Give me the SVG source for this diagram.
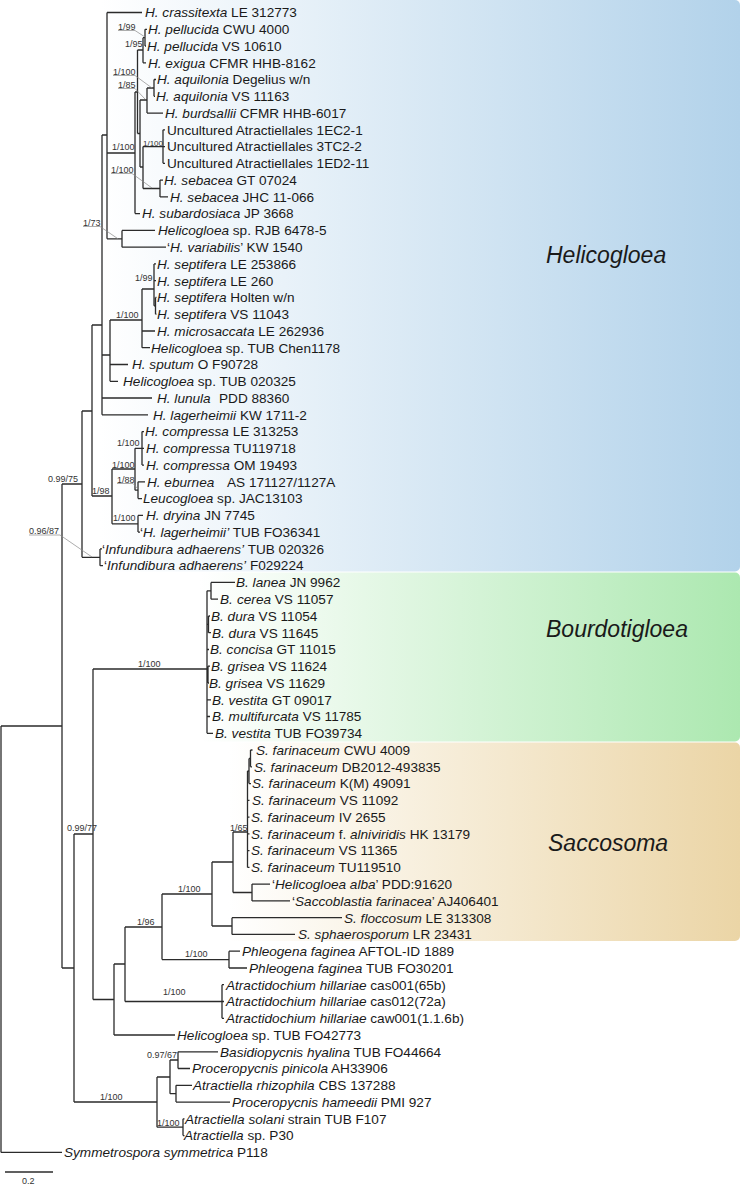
<svg xmlns="http://www.w3.org/2000/svg" width="742" height="1185" viewBox="0 0 742 1185">
<defs>
<linearGradient id="gB" x1="0" y1="0" x2="1" y2="0"><stop offset="0" stop-color="#ffffff"/><stop offset="1" stop-color="#b2d2ea"/></linearGradient>
<linearGradient id="gG" x1="0" y1="0" x2="1" y2="0"><stop offset="0" stop-color="#ffffff"/><stop offset="1" stop-color="#ace8b0"/></linearGradient>
<linearGradient id="gT" x1="0" y1="0" x2="1" y2="0"><stop offset="0" stop-color="#ffffff"/><stop offset="1" stop-color="#ebd5a6"/></linearGradient>
<style>
.br{fill:none;stroke:#2b2b2b;stroke-width:1.3}
.ld{fill:none;stroke:#8a8a8a;stroke-width:0.7}
text{font-family:"Liberation Sans",Arial,sans-serif;fill:#1a1a1a}
.t{font-size:13.6px}
.i{font-style:italic}
.s{font-size:9px;fill:#333}
.ss{font-size:8px;fill:#333}
.c{font-size:23px;font-style:italic}
</style>
</defs>
<g id="backgrounds">
<rect x="100" y="0" width="640" height="571.5" rx="5" fill="url(#gB)"/>
<rect x="200" y="572.5" width="540" height="169" rx="5" fill="url(#gG)"/>
<rect x="228" y="742.5" width="512" height="198.5" rx="5" fill="url(#gT)"/>
</g>
<g id="clade-labels">
<text class="c" x="546" y="263">Helicogloea</text>
<text class="c" x="546" y="637">Bourdotigloea</text>
<text class="c" x="548" y="851">Saccosoma</text>
</g>
<g id="connectors">
<path class="br" d="M1,726V1152.4 M1,726H62 M1,1152.4H62
M62,484V968 M62,484H82 M62,968H74
M82,411V557.3 M82,411H92 M82,557.3H100
M100,548.9V565.7 M100,548.9H102 M100,565.7H103
M92,325V496 M92,325H102 M92,496H112
M102,135V414.8 M102,135H107 M102,355H110 M102,398H152 M102,414.8H148
M107,12.5V238.8 M107,12.5H142 M107,153H135 M107,238.8H122
M122,230.4V247.2 M122,230.4H155 M122,247.2H166
M135,92V213.6 M135,92H137.5 M135,213.6H140
M137.5,50V133.5 M137.5,50H143 M137.5,133.5H140
M143,37.7V62.8 M143,37.7H145 M143,62.8H146
M145,29.3V46 M145,29.3H147 M145,46H146
M140,100V167 M140,100H147 M140,167H143
M147,88V113.1 M147,88H154 M147,113.1H163
M154,79.5V96.3 M154,79.5H156 M154,96.3H155
M143,146.6V188.5 M143,146.6H163 M143,188.5H160
M163,129.8V163.3 M163,129.8H165 M163,146.6H165 M163,163.3H165
M160,180.1V196.9 M160,180.1H163 M160,196.9H168
M110,320V381.3 M110,320H142 M110,364.5H128 M110,381.3H118
M142,289V347.7 M142,289H154 M142,331H155 M142,347.7H150
M154,263.9V305.8 M154,263.9H156 M154,280.7H156 M154,305.8H155.5 M155.5,297.4V314.2 M155.5,297.4H156.5 M155.5,314.2H156.5
M112,469V523.8 M112,469H135 M112,523.8H138
M135,448.3V490.2 M135,448.3H142 M135,490.2H138
M142,431.6V465.1 M142,431.6H144 M142,448.3H144 M142,465.1H144
M138,481.8V498.6 M138,481.8H145 M138,498.6H142
M138,515.4V532.1 M138,515.4H143 M138,532.1H140
M74,834V1102 M74,834H93 M74,1102H157
M93,669V999.5 M93,669H207 M93,999.5H114
M207,590.8V733.3 M207,590.8H211 M211,582.4V599.2 M211,582.4H235 M211,599.2H218
M207,624.4H208.5 M208.5,616V632.7 M208.5,616H210 M208.5,632.7H211
M207,649.5H209
M207,674.6H208 M208,666.2V683 M208,666.2H210 M208,683H209
M207,699.8H211 M207,716.5H210 M207,733.3H213
M114,964V1035 M114,964H125 M114,1035H175
M125,927V1001.5 M125,927H162 M125,1001.5H222
M222,984.7V1018.3 M222,984.7H224 M222,1001.5H224 M222,1018.3H224
M162,894V959.6 M162,894H212 M162,959.6H229
M229,951.2V968 M229,951.2H240 M229,968H247
M212,862V926 M212,862H233 M212,926H232
M232,917.7V934.4 M232,917.7H342 M232,934.4H295
M233,832V892.5 M233,832H247.5 M233,892.5H252
M252,884.1V900.9 M252,884.1H270 M252,900.9H290
M247.5,771V867.4 M247.5,800.3H249.5 M247.5,817.1H249.5 M247.5,833.9H249.5 M247.5,850.6H249.5 M247.5,867.4H249.5
M247.5,771H249 M249,758.4V783.6 M249,783.6H251 M249,758.4H250.5 M250.5,750V766.8 M250.5,750H252.5 M250.5,766.8H252
M157,1077V1127.2 M157,1077H170 M157,1127.2H183
M170,1060V1093.7 M170,1060H178 M170,1093.7H176
M178,1051.8V1068.5 M178,1051.8H218 M178,1068.5H190
M176,1085.3V1102.1 M176,1085.3H192 M176,1102.1H230
M183,1118.8V1135.6 M183,1118.8H184.5 M183,1135.6H184.5"/>
<path class="ld" d="M118,30.5H135L145,37 M113,75.5H135L152,88 M118,88.5H135L145,99 M111,173.5H132L152,188 M83,226.5H100L118,238.8 M117,483.5H133L138,489 M29,535H60L92,557"/>
<path class="br" d="M5,1172H53"/>
</g>
<g id="support-values">
<text class="s" x="118" y="30">1/99</text>
<text class="s" x="125" y="47">1/95</text>
<text class="s" x="113" y="75">1/100</text>
<text class="s" x="118" y="88">1/85</text>
<text class="s" x="112" y="150">1/100</text>
<text class="ss" x="143" y="146">1/100</text>
<text class="s" x="111" y="173">1/100</text>
<text class="s" x="83" y="226">1/73</text>
<text class="s" x="135" y="281">1/99</text>
<text class="s" x="116" y="318">1/100</text>
<text class="s" x="117" y="446">1/100</text>
<text class="s" x="112" y="468">1/100</text>
<text class="s" x="117" y="483">1/88</text>
<text class="s" x="92" y="494">1/98</text>
<text class="s" x="113" y="521">1/100</text>
<text class="s" x="48" y="482">0.99/75</text>
<text class="s" x="29" y="534">0.96/87</text>
<text class="s" x="138" y="667">1/100</text>
<text class="s" x="67" y="831">0.99/77</text>
<text class="s" x="230" y="831">1/65</text>
<text class="s" x="178" y="892">1/100</text>
<text class="s" x="137" y="925">1/96</text>
<text class="s" x="185" y="957">1/100</text>
<text class="s" x="163" y="995">1/100</text>
<text class="s" x="147" y="1058">0.97/67</text>
<text class="s" x="100" y="1100">1/100</text>
<text class="s" x="157" y="1126">1/100</text>
<text class="s" x="22" y="1184">0.2</text>
</g>
<g id="tips" class="t">
<g id="n1"><text class="t" x="145" y="17.3"><tspan class="i">H. crassitexta</tspan> LE 312773</text></g>
<g id="n2"><text class="t" x="148" y="34.1"><tspan class="i">H. pellucida</tspan> CWU 4000</text></g>
<g id="n3"><text class="t" x="147" y="50.8"><tspan class="i">H. pellucida</tspan> VS 10610</text></g>
<g id="n4"><text class="t" x="148" y="67.6"><tspan class="i">H. exigua</tspan> CFMR HHB-8162</text></g>
<g id="n5"><text class="t" x="157" y="84.3"><tspan class="i">H. aquilonia</tspan> Degelius w/n</text></g>
<g id="n6"><text class="t" x="156" y="101.1"><tspan class="i">H. aquilonia</tspan> VS 11163</text></g>
<g id="n7"><text class="t" x="165" y="117.9"><tspan class="i">H. burdsallii</tspan> CFMR HHB-6017</text></g>
<g id="n8"><text class="t" x="167" y="134.6">Uncultured Atractiellales 1EC2-1</text></g>
<g id="n9"><text class="t" x="167" y="151.4">Uncultured Atractiellales 3TC2-2</text></g>
<g id="n10"><text class="t" x="167" y="168.1">Uncultured Atractiellales 1ED2-11</text></g>
<g id="n11"><text class="t" x="164" y="184.9"><tspan class="i">H. sebacea</tspan> GT 07024</text></g>
<g id="n12"><text class="t" x="170" y="201.7"><tspan class="i">H. sebacea</tspan> JHC 11-066</text></g>
<g id="n13"><text class="t" x="142" y="218.4"><tspan class="i">H. subardosiaca</tspan> JP 3668</text></g>
<g id="n14"><text class="t" x="158" y="235.2"><tspan class="i">Helicogloea</tspan> sp. RJB 6478-5</text></g>
<g id="n15"><text class="t" x="167" y="252">‘<tspan class="i">H. variabilis</tspan>’ KW 1540</text></g>
<g id="n16"><text class="t" x="157" y="268.7"><tspan class="i">H. septifera</tspan> LE 253866</text></g>
<g id="n17"><text class="t" x="157" y="285.5"><tspan class="i">H. septifera</tspan> LE 260</text></g>
<g id="n18"><text class="t" x="157" y="302.2"><tspan class="i">H. septifera</tspan> Holten w/n</text></g>
<g id="n19"><text class="t" x="157" y="319"><tspan class="i">H. septifera</tspan> VS 11043</text></g>
<g id="n20"><text class="t" x="157" y="335.8"><tspan class="i">H. microsaccata</tspan> LE 262936</text></g>
<g id="n21"><text class="t" x="151" y="352.5"><tspan class="i">Helicogloea</tspan> sp. TUB Chen1178</text></g>
<g id="n22"><text class="t" x="132" y="369.3"><tspan class="i">H. sputum</tspan> O F90728</text></g>
<g id="n23"><text class="t" x="123" y="386.1"><tspan class="i">Helicogloea</tspan> sp. TUB 020325</text></g>
<g id="n24"><text class="t" x="157" y="402.8"><tspan class="i">H. lunula</tspan> <tspan x="219">PDD 88360</tspan></text></g>
<g id="n25"><text class="t" x="153" y="419.6"><tspan class="i">H. lagerheimii</tspan> KW 1711-2</text></g>
<g id="n26"><text class="t" x="145" y="436.4"><tspan class="i">H. compressa</tspan> LE 313253</text></g>
<g id="n27"><text class="t" x="146" y="453.1"><tspan class="i">H. compressa</tspan> TU119718</text></g>
<g id="n28"><text class="t" x="146" y="469.9"><tspan class="i">H. compressa</tspan> OM 19493</text></g>
<g id="n29"><text class="t" x="147" y="486.6"><tspan class="i">H. eburnea</tspan><tspan x="227">AS 171127/1127A</tspan></text></g>
<g id="n30"><text class="t" x="143" y="503.4"><tspan class="i">Leucogloea</tspan> sp. JAC13103</text></g>
<g id="n31"><text class="t" x="146" y="520.2"><tspan class="i">H. dryina</tspan> JN 7745</text></g>
<g id="n32"><text class="t" x="140" y="536.9">‘<tspan class="i">H. lagerheimii’</tspan> TUB FO36341</text></g>
<g id="n33"><text class="t" x="102" y="553.7">‘<tspan class="i">Infundibura adhaerens’</tspan> TUB 020326</text></g>
<g id="n34"><text class="t" x="104" y="570">‘<tspan class="i">Infundibura adhaerens’</tspan> F029224</text></g>
<g id="n35"><text class="t" x="236" y="587.2"><tspan class="i">B. lanea</tspan> JN 9962</text></g>
<g id="n36"><text class="t" x="220" y="604"><tspan class="i">B.</tspan><tspan class="i" x="237">cerea</tspan> VS 11057</text></g>
<g id="n37"><text class="t" x="211" y="620.8"><tspan class="i">B. dura</tspan> VS 11054</text></g>
<g id="n38"><text class="t" x="212" y="637.5"><tspan class="i">B. dura</tspan> VS 11645</text></g>
<g id="n39"><text class="t" x="210" y="654.3"><tspan class="i">B. concisa</tspan> GT 11015</text></g>
<g id="n40"><text class="t" x="211" y="671"><tspan class="i">B. grisea</tspan> VS 11624</text></g>
<g id="n41"><text class="t" x="209" y="687.8"><tspan class="i">B. grisea</tspan> VS 11629</text></g>
<g id="n42"><text class="t" x="212" y="704.6"><tspan class="i">B. vestita</tspan> GT 09017</text></g>
<g id="n43"><text class="t" x="212" y="721.3"><tspan class="i">B. multifurcata</tspan> VS 11785</text></g>
<g id="n44"><text class="t" x="215" y="738.1"><tspan class="i">B. vestita</tspan> TUB FO39734</text></g>
<g id="n45"><text class="t" x="256" y="754.8"><tspan class="i">S. farinaceum</tspan> CWU 4009</text></g>
<g id="n46"><text class="t" x="254" y="771.6"><tspan class="i">S. farinaceum</tspan> DB2012-493835</text></g>
<g id="n47"><text class="t" x="252" y="788.4"><tspan class="i">S. farinaceum</tspan> K(M) 49091</text></g>
<g id="n48"><text class="t" x="252" y="805.1"><tspan class="i">S. farinaceum</tspan> VS 11092</text></g>
<g id="n49"><text class="t" x="251" y="821.9"><tspan class="i">S. farinaceum</tspan> IV 2655</text></g>
<g id="n50"><text class="t" x="251" y="838.7"><tspan class="i">S. farinaceum</tspan> f. <tspan class="i">alniviridis</tspan> HK 13179</text></g>
<g id="n51"><text class="t" x="251" y="855.4"><tspan class="i">S. farinaceum</tspan> VS 11365</text></g>
<g id="n52"><text class="t" x="251" y="872.2"><tspan class="i">S. farinaceum</tspan> TU119510</text></g>
<g id="n53"><text class="t" x="272" y="888.9">‘<tspan class="i">Helicogloea alba</tspan>’ PDD:91620</text></g>
<g id="n54"><text class="t" x="292" y="905.7">‘<tspan class="i">Saccoblastia farinacea</tspan>’ AJ406401</text></g>
<g id="n55"><text class="t" x="344" y="922.5"><tspan class="i">S. floccosum</tspan> LE 313308</text></g>
<g id="n56"><text class="t" x="298" y="939.2"><tspan class="i">S. sphaerosporum</tspan> LR 23431</text></g>
<g id="n57"><text class="t" x="242" y="956"><tspan class="i">Phleogena faginea</tspan> AFTOL-ID 1889</text></g>
<g id="n58"><text class="t" x="249" y="972.8"><tspan class="i">Phleogena faginea</tspan> TUB FO30201</text></g>
<g id="n59"><text class="t" x="226" y="989.5"><tspan class="i">Atractidochium hillariae</tspan> cas001(65b)</text></g>
<g id="n60"><text class="t" x="226" y="1006.3"><tspan class="i">Atractidochium hillariae</tspan> cas012(72a)</text></g>
<g id="n61"><text class="t" x="226" y="1023.1"><tspan class="i">Atractidochium hillariae</tspan> caw001(1.1.6b)</text></g>
<g id="n62"><text class="t" x="177" y="1039.8"><tspan class="i">Helicogloea</tspan> sp. TUB FO42773</text></g>
<g id="n63"><text class="t" x="220" y="1056.6"><tspan class="i">Basidiopycnis hyalina</tspan> TUB FO44664</text></g>
<g id="n64"><text class="t" x="192" y="1073.3"><tspan class="i">Proceropycnis pinicola</tspan> AH33906</text></g>
<g id="n65"><text class="t" x="193" y="1090.1"><tspan class="i">Atractiella rhizophila</tspan> CBS 137288</text></g>
<g id="n66"><text class="t" x="232" y="1106.9"><tspan class="i">Proceropycnis hameedii</tspan> PMI 927</text></g>
<g id="n67"><text class="t" x="185" y="1123.6"><tspan class="i">Atractiella solani</tspan> strain TUB F107</text></g>
<g id="n68"><text class="t" x="184" y="1140.4"><tspan class="i">Atractiella</tspan> sp. P30</text></g>
<g id="n69"><text class="t" x="64" y="1157.2"><tspan class="i">Symmetrospora symmetrica</tspan> P118</text></g>
</g>
</svg>
